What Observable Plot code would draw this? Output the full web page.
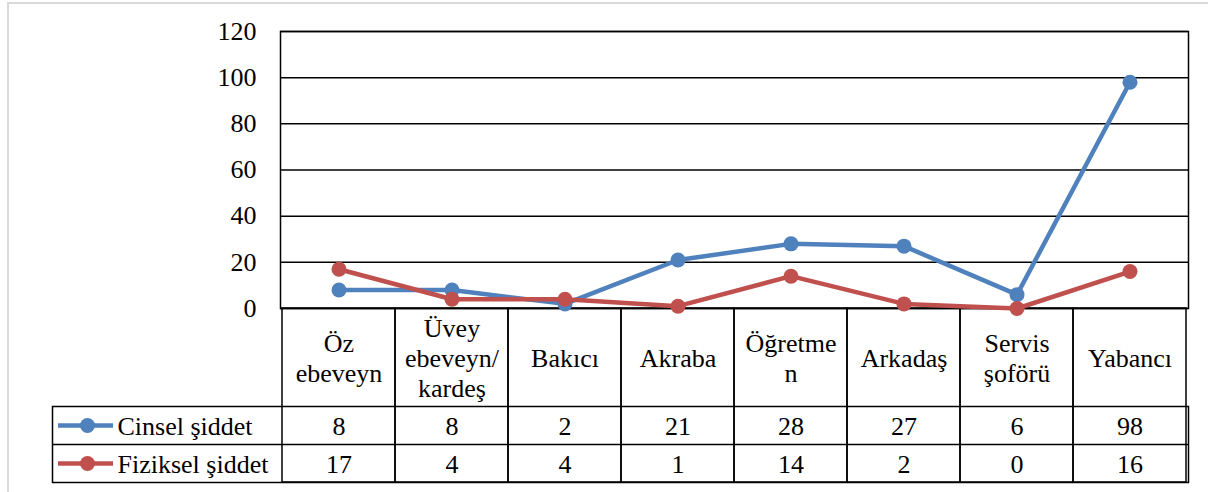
<!DOCTYPE html>
<html>
<head>
<meta charset="utf-8">
<script src="https://cdn.jsdelivr.net/npm/d3@7"></script>
<script src="https://cdn.jsdelivr.net/npm/@observablehq/plot@0.6"></script>
<style>
  html, body { margin: 0; padding: 0; background: #fff; overflow: hidden; }
  #wrap { position: relative; width: 1208px; height: 492px; }
  #border { position: absolute; left: 7px; top: 2px; width: 1230px; height: 520px; border: 2px solid #d9d9d9; box-sizing: border-box; }
  #chart { position: absolute; left: 0; top: 0; font-family: "Liberation Serif"; }
</style>
</head>
<body>
<div id="wrap"><div id="border"></div><div id="chart"></div></div>
<script>
const categories = ["Öz\nebeveyn", "Üvey\nebeveyn/\nkardeş", "Bakıcı", "Akraba", "Öğretme\nn", "Arkadaş", "Servis\nşoförü", "Yabancı"];
const cinsel = [8, 8, 2, 21, 28, 27, 6, 98];
const fiziksel = [17, 4, 4, 1, 14, 2, 0, 16];
const seriesNames = ["Cinsel şiddet", "Fiziksel şiddet"];
const seriesColors = ["#4F81BD", "#C0504D"];
const yTicks = [0, 20, 40, 60, 80, 100, 120];

const seriesValues = [cinsel, fiziksel];
const rowDy = [118, 156];
const FONT = "Liberation Serif";

const data = seriesNames.flatMap((s, si) =>
  categories.map((c, i) => ({cat: c, series: s, value: seriesValues[si][i]}))
);

const marks = [
  Plot.ruleY(yTicks, {stroke: "black", strokeWidth: 1.5}),
  Plot.frame({stroke: "black", strokeWidth: 1.5}),
  Plot.cell(categories, {x: d => d, fill: "none", stroke: "black", strokeWidth: 1.5, insetTop: 277, insetBottom: -174}),
  Plot.frame({stroke: "black", strokeWidth: 1.5, insetTop: 375, insetBottom: -174, insetLeft: -228}),
  Plot.ruleY([0], {dy: 136, insetLeft: -228, stroke: "black", strokeWidth: 1.5}),
  Plot.text(categories, {x: d => d, text: d => d, frameAnchor: "bottom", lineAnchor: "middle", dy: 49, lineHeight: 1.15, fill: "black", fontFamily: FONT, fontSize: 26})
];

seriesNames.forEach((s, si) => {
  const rows = data.filter(d => d.series === s);
  marks.push(
    Plot.line(rows, {x: "cat", y: "value", stroke: seriesColors[si], strokeWidth: 4.5}),
    Plot.dot(rows, {x: "cat", y: "value", fill: seriesColors[si], r: 7.5}),
    Plot.text(rows, {x: "cat", text: d => String(d.value), frameAnchor: "bottom", lineAnchor: "middle", dy: rowDy[si], fill: "black", fontFamily: FONT, fontSize: 26}),
    Plot.ruleY([0], {dy: rowDy[si] - 1, insetLeft: -222, insetRight: 1075, stroke: seriesColors[si], strokeWidth: 4.5}),
    Plot.dot([s], {frameAnchor: "bottom-left", dx: -193, dy: rowDy[si] - 1, r: 7.5, fill: seriesColors[si]}),
    Plot.text([s], {frameAnchor: "bottom-left", lineAnchor: "middle", dx: -163, dy: rowDy[si], text: d => d, textAnchor: "start", fill: "black", fontFamily: FONT, fontSize: 26})
  );
});

const chart = Plot.plot({
  width: 1208,
  height: 492,
  marginLeft: 280,
  marginRight: 20,
  marginTop: 31,
  marginBottom: 184,
  style: {background: "transparent", overflow: "visible", color: "black"},
  x: {type: "band", domain: categories, padding: 0, axis: null},
  y: {domain: [0, 120], ticks: yTicks, tickSize: 0, tickPadding: 24, label: null},
  marks
});
chart.setAttribute("font-family", FONT);
chart.setAttribute("font-size", "26");
d3.select(chart).selectAll("g").each(function() {
  if (this.hasAttribute("font-family")) this.setAttribute("font-family", FONT);
});
d3.select(chart).selectAll("text, tspan")
  .attr("font-family", FONT)
  .style("font-family", FONT)
  .style("font-size", "26px");
document.getElementById("chart").appendChild(chart);
</script>
</body>
</html>
